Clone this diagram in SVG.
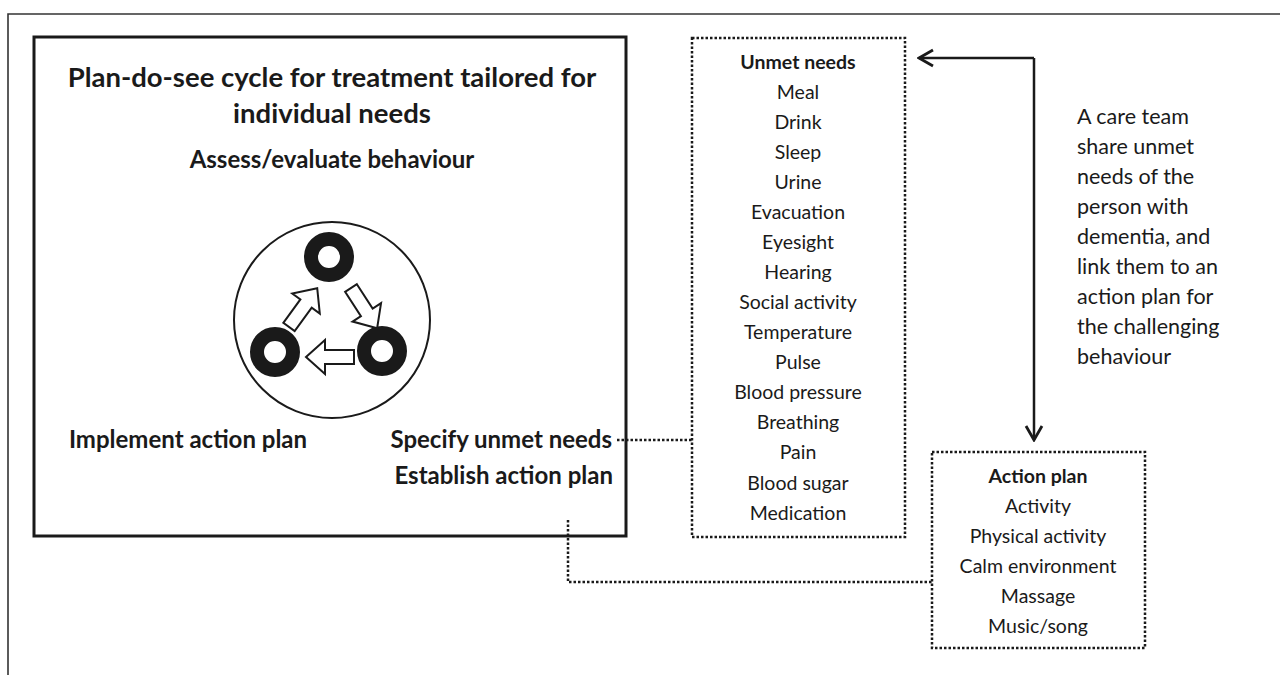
<svg xmlns="http://www.w3.org/2000/svg" xmlns:xlink="http://www.w3.org/1999/xlink" width="1280" height="675" viewBox="0 0 1280 675">
<style>
.t{font-family:Lato,"Liberation Sans",sans-serif;fill:#1a1a1a}
.b{font-weight:bold}
.title{font-size:27.5px;font-weight:bold}
.lab{font-size:24px;font-weight:bold}
.item{font-size:19.5px}
.note{font-size:21.5px}
.dot{fill:none;stroke:#1a1a1a;stroke-width:2.5;stroke-dasharray:2.5 2}
.solid{fill:none;stroke:#1a1a1a;stroke-width:2.5}
</style>
<defs>
<marker id="ah" viewBox="0 0 20 20" refX="18" refY="10" markerWidth="20" markerHeight="20" markerUnits="userSpaceOnUse" orient="auto">
<path d="M4,2 L18,10 L4,18" fill="none" stroke="#1a1a1a" stroke-width="2.8"/>
</marker>
<polygon id="blk" points="0,-7 29,-7 29,-17 48,0 29,17 29,7 0,7" fill="#fff" stroke="#1a1a1a" stroke-width="2" stroke-linejoin="miter"/>
</defs>
<rect width="1280" height="675" fill="#fff"/>
<g id="frame">
<path d="M8,675 L8,14 L1280,14" fill="none" stroke="#333" stroke-width="1.6"/>
</g>
<g id="cycle-box">
<rect x="34" y="37" width="592" height="499" fill="none" stroke="#1a1a1a" stroke-width="3"/>
<text class="t title" x="332" y="87" text-anchor="middle">Plan-do-see cycle for treatment tailored for</text>
<text class="t title" x="332" y="123" text-anchor="middle">individual needs</text>
<text class="t lab" x="332" y="168" text-anchor="middle">Assess/evaluate behaviour</text>
<text class="t lab" x="188" y="448" text-anchor="middle">Implement action plan</text>
<text class="t lab" x="612" y="448" text-anchor="end">Specify unmet needs</text>
<text class="t lab" x="613" y="484" text-anchor="end">Establish action plan</text>
</g>
<g id="cycle-icon">
<circle cx="332" cy="320" r="98" fill="#fff" stroke="#1a1a1a" stroke-width="2"/>
<circle cx="329" cy="257" r="18" fill="none" stroke="#1a1a1a" stroke-width="14"/>
<circle cx="275" cy="352" r="18" fill="none" stroke="#1a1a1a" stroke-width="14"/>
<circle cx="382" cy="351" r="18" fill="none" stroke="#1a1a1a" stroke-width="14"/>
<use xlink:href="#blk" transform="translate(289,327) rotate(-54)"/>
<use xlink:href="#blk" transform="translate(351,288) rotate(57)"/>
<use xlink:href="#blk" transform="translate(354,357) rotate(180)"/>
</g>
<g id="unmet-needs">
<rect x="692" y="38" width="213" height="499" class="dot"/>
<text class="t item b" x="798" y="69" text-anchor="middle">Unmet needs</text>
<text class="t item" x="798" y="99" text-anchor="middle">Meal</text>
<text class="t item" x="798" y="129" text-anchor="middle">Drink</text>
<text class="t item" x="798" y="159" text-anchor="middle">Sleep</text>
<text class="t item" x="798" y="189" text-anchor="middle">Urine</text>
<text class="t item" x="798" y="219" text-anchor="middle">Evacuation</text>
<text class="t item" x="798" y="249" text-anchor="middle">Eyesight</text>
<text class="t item" x="798" y="279" text-anchor="middle">Hearing</text>
<text class="t item" x="798" y="309" text-anchor="middle">Social activity</text>
<text class="t item" x="798" y="339" text-anchor="middle">Temperature</text>
<text class="t item" x="798" y="369" text-anchor="middle">Pulse</text>
<text class="t item" x="798" y="399" text-anchor="middle">Blood pressure</text>
<text class="t item" x="798" y="429" text-anchor="middle">Breathing</text>
<text class="t item" x="798" y="459" text-anchor="middle">Pain</text>
<text class="t item" x="798" y="490" text-anchor="middle">Blood sugar</text>
<text class="t item" x="798" y="520" text-anchor="middle">Medication</text>
</g>
<g id="action-plan">
<rect x="932" y="452" width="213" height="196" class="dot"/>
<text class="t item b" x="1038" y="483" text-anchor="middle">Action plan</text>
<text class="t item" x="1038" y="513" text-anchor="middle">Activity</text>
<text class="t item" x="1038" y="543" text-anchor="middle">Physical activity</text>
<text class="t item" x="1038" y="573" text-anchor="middle">Calm environment</text>
<text class="t item" x="1038" y="603" text-anchor="middle">Massage</text>
<text class="t item" x="1038" y="633" text-anchor="middle">Music/song</text>
</g>
<g id="note">
<text class="t note" x="1077" y="124">A care team</text>
<text class="t note" x="1077" y="154">share unmet</text>
<text class="t note" x="1077" y="184">needs of the</text>
<text class="t note" x="1077" y="214">person with</text>
<text class="t note" x="1077" y="244">dementia, and</text>
<text class="t note" x="1077" y="274">link them to an</text>
<text class="t note" x="1077" y="304">action plan for</text>
<text class="t note" x="1077" y="334">the challenging</text>
<text class="t note" x="1077" y="364">behaviour</text>
</g>
<g id="connectors">
<path d="M617,440 L692,440" class="dot"/>
<path d="M568,520 L568,582 L932,582" class="dot"/>
<path d="M1034,58 L919,58" class="solid" marker-end="url(#ah)"/>
<path d="M1034,58 L1034,440" class="solid" marker-end="url(#ah)"/>
</g>
</svg>
